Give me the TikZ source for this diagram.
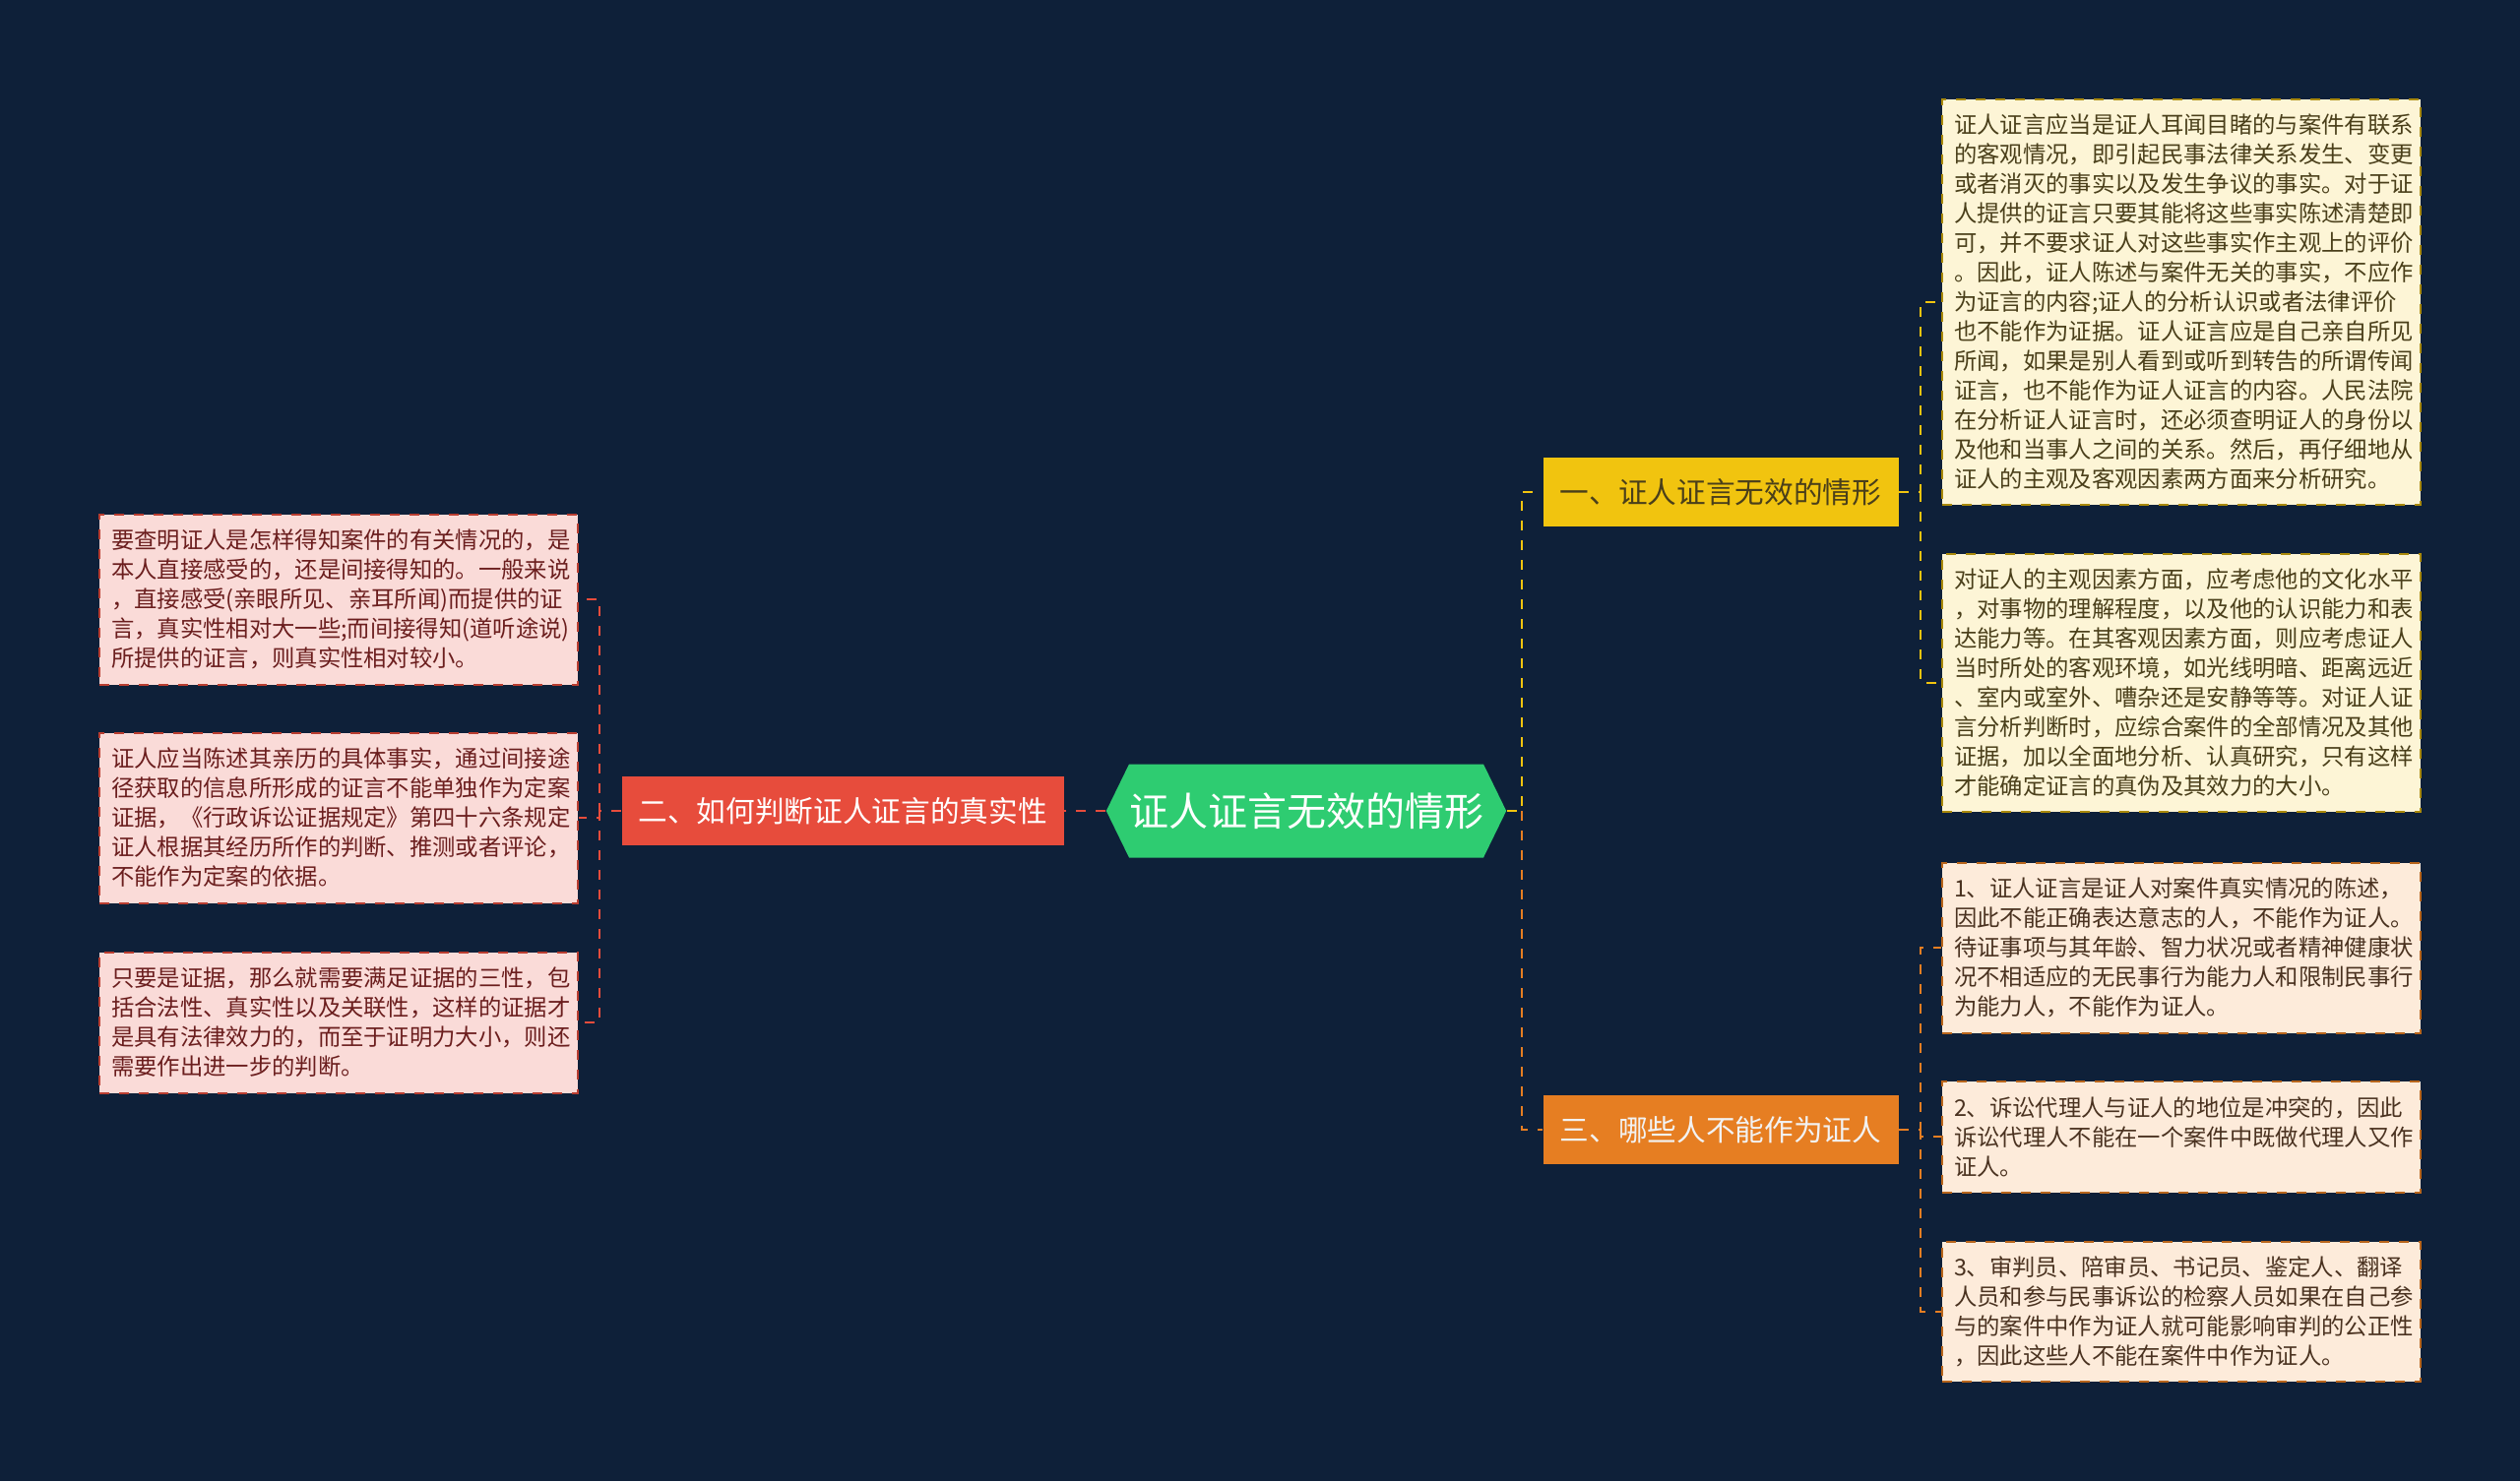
\documentclass[tikz,border=0pt]{standalone}
\usepackage{fontspec}
\setmainfont{Noto Sans CJK SC}
\usetikzlibrary{shapes.symbols}
\definecolor{bg}{HTML}{0E2039}
\definecolor{cgreen}{HTML}{2ECC71}
\definecolor{cyel}{HTML}{F1C40F}
\definecolor{cora}{HTML}{E67E22}
\definecolor{cred}{HTML}{E74C3C}
\definecolor{fyel}{HTML}{FDF5D6}
\definecolor{fora}{HTML}{FDEBDA}
\definecolor{fpink}{HTML}{FADBD8}
\definecolor{tyel}{HTML}{4A3F1A}
\definecolor{tora}{HTML}{4A3220}
\definecolor{tpink}{HTML}{6B1E1E}
\begin{document}
\begin{tikzpicture}[x=0.3pt,y=-0.3pt,
  leaf/.style={draw, dashed, line width=0.6pt, inner xsep=3.6pt, inner ysep=0pt,
    text width=138.6pt, minimum width=145.8pt, align=left,
    font=\fontsize{7}{9}\selectfont},
  ly/.style={leaf, fill=fyel, draw=cyel!70!black, text=tyel},
  lo/.style={leaf, fill=fora, draw=cora!80!black, text=tora},
  lp/.style={leaf, fill=fpink, draw=cred!80!black, text=tpink},
  br/.style={minimum width=#1, minimum height=21pt, inner sep=0pt, font=\fontsize{8.9}{10}\selectfont},
  con/.style={dashed, line width=0.6pt}]
\fill[bg] (0,0) rectangle (2560,1505);
\useasboundingbox (0,0) rectangle (2560,1505);

\node[signal, signal to=east and west, signal pointer angle=128, fill=cgreen,
  minimum width=120pt, minimum height=28.5pt, inner sep=0pt, text=white,
  font=\fontsize{12}{14}\selectfont] (c) at (1327,824) {证人证言无效的情形};

\node[br=108.3pt, fill=cyel, text=tyel] (b1) at (1748,500) {一、证人证言无效的情形};
\node[br=108.3pt, fill=cora, text=white!95!black] (b3) at (1748,1148) {三、哪些人不能作为证人};
\node[br=134.7pt, fill=cred, text=white] (b2) at (856,824) {二、如何判断证人证言的真实性};

\node[ly, minimum height=123.6pt] (r1) at (2216,307) {证人证言应当是证人耳闻目睹的与案件有联系\\的客观情况，即引起民事法律关系发生、变更\\或者消灭的事实以及发生争议的事实。对于证\\人提供的证言只要其能将这些事实陈述清楚即\\可，并不要求证人对这些事实作主观上的评价\\。因此，证人陈述与案件无关的事实，不应作\\为证言的内容;证人的分析认识或者法律评价\\也不能作为证据。证人证言应是自己亲自所见\\所闻，如果是别人看到或听到转告的所谓传闻\\证言，也不能作为证人证言的内容。人民法院\\在分析证人证言时，还必须查明证人的身份以\\及他和当事人之间的关系。然后，再仔细地从\\证人的主观及客观因素两方面来分析研究。};
\node[ly, minimum height=78.6pt] (r2) at (2216,694) {对证人的主观因素方面，应考虑他的文化水平\\，对事物的理解程度，以及他的认识能力和表\\达能力等。在其客观因素方面，则应考虑证人\\当时所处的客观环境，如光线明暗、距离远近\\、室内或室外、嘈杂还是安静等等。对证人证\\言分析判断时，应综合案件的全部情况及其他\\证据，加以全面地分析、认真研究，只有这样\\才能确定证言的真伪及其效力的大小。};
\node[lo, minimum height=51.9pt] (r3) at (2216,963) {1、证人证言是证人对案件真实情况的陈述，\\因此不能正确表达意志的人，不能作为证人。\\待证事项与其年龄、智力状况或者精神健康状\\况不相适应的无民事行为能力人和限制民事行\\为能力人，不能作为证人。};
\node[lo, minimum height=33.9pt] (r4) at (2216,1155) {2、诉讼代理人与证人的地位是冲突的，因此\\诉讼代理人不能在一个案件中既做代理人又作\\证人。};
\node[lo, minimum height=42.6pt] (r5) at (2216,1333) {3、审判员、陪审员、书记员、鉴定人、翻译\\人员和参与民事诉讼的检察人员如果在自己参\\与的案件中作为证人就可能影响审判的公正性\\，因此这些人不能在案件中作为证人。};

\node[lp, minimum height=51.9pt] (l1) at (344,609) {要查明证人是怎样得知案件的有关情况的，是\\本人直接感受的，还是间接得知的。一般来说\\，直接感受(亲眼所见、亲耳所闻)而提供的证\\言，真实性相对大一些;而间接得知(道听途说)\\所提供的证言，则真实性相对较小。};
\node[lp, minimum height=51.9pt] (l2) at (344,831) {证人应当陈述其亲历的具体事实，通过间接途\\径获取的信息所形成的证言不能单独作为定案\\证据，《行政诉讼证据规定》第四十六条规定\\证人根据其经历所作的判断、推测或者评论，\\不能作为定案的依据。};
\node[lp, minimum height=42.9pt] (l3) at (344,1039) {只要是证据，那么就需要满足证据的三性，包\\括合法性、真实性以及关联性，这样的证据才\\是具有法律效力的，而至于证明力大小，则还\\需要作出进一步的判断。};

\coordinate (j) at (1546,824);
\draw[con, draw=cyel] (c.east) -- (j) |- (b1.west);
\draw[con, draw=cora] (j) |- (b3.west);
\draw[con, draw=cred] (c.west) -- (b2.east);
\draw[con, draw=cyel] (b1.east) -- (1951,500) |- (r1.west);
\draw[con, draw=cyel] (1951,500) |- (r2.west);
\draw[con, draw=cora] (b3.east) -- (1951,1148) |- (r3.west);
\draw[con, draw=cora] (1951,1148) |- (r4.west);
\draw[con, draw=cora] (1951,1148) |- (r5.west);
\draw[con, draw=cred] (b2.west) -- (609,824) |- (l1.east);
\draw[con, draw=cred] (609,824) |- (l2.east);
\draw[con, draw=cred] (609,824) |- (l3.east);
\end{tikzpicture}
\end{document}
